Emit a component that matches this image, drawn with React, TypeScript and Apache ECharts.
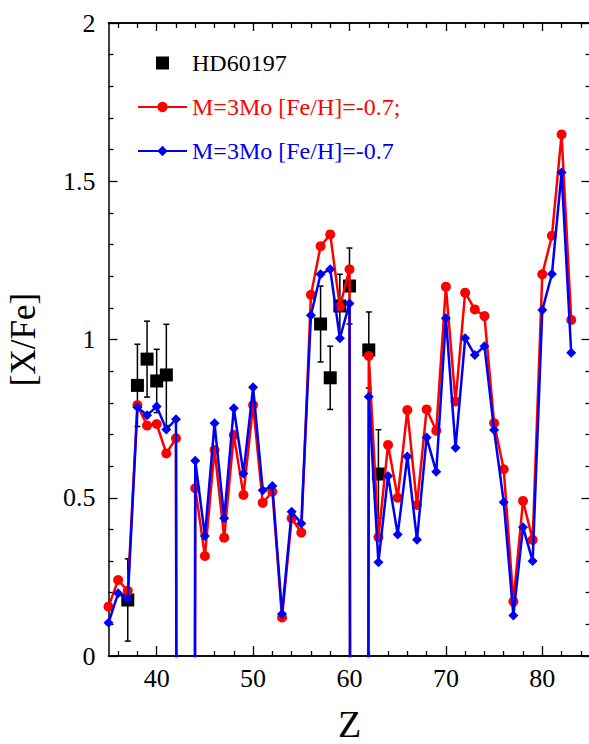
import { useEffect, useRef } from "react";
import * as echarts from "echarts";

// Atomic number of each element in the model curves
const elementZ = [
  35, 36, 37, 38, 39, 40, 41, 42, 43, 44, 45, 46, 47, 48, 49, 50, 51, 52, 53, 54, 55,
  56, 57, 58, 59, 60, 61, 62, 63, 64, 65, 66, 67, 68, 69, 70, 71, 72, 73, 74, 75, 76,
  77, 78, 79, 80, 81, 82, 83,
];

// [X/Fe] of the two models; Tc (43) and Pm (61) have no stable isotopes,
// so their values sit far below the axis.
const modelRed = [
  0.156, 0.24, 0.206, 0.793, 0.728, 0.733, 0.64, 0.688, -20, 0.53, 0.316, 0.651, 0.374,
  0.698, 0.509, 0.793, 0.484, 0.519, 0.122, 0.435, 0.39, 1.141, 1.295, 1.332, 1.104,
  1.222, -20, 0.948, 0.375, 0.667, 0.5, 0.777, 0.477, 0.779, 0.712, 1.167, 0.804, 1.148,
  1.095, 1.074, 0.736, 0.59, 0.172, 0.49, 0.367, 1.206, 1.328, 1.648, 1.062,
];
const modelBlue = [
  0.105, 0.198, 0.18, 0.786, 0.761, 0.788, 0.716, 0.748, -20, 0.617, 0.379, 0.735,
  0.435, 0.783, 0.577, 0.849, 0.524, 0.537, 0.133, 0.456, 0.419, 1.077, 1.206, 1.222,
  1.004, 1.114, -20, 0.819, 0.296, 0.569, 0.384, 0.63, 0.367, 0.69, 0.582, 1.067, 0.658,
  1.004, 0.951, 0.979, 0.714, 0.486, 0.128, 0.407, 0.3, 1.093, 1.207, 1.528, 0.958,
];

// Observed abundances of HD60197 with their uncertainties
const starZ = [37, 38, 39, 40, 41, 57, 58, 59, 60, 62, 63];
const starValue = [0.177, 0.855, 0.938, 0.869, 0.888, 1.049, 0.879, 1.106, 1.169, 0.967, 0.575];
const starError = [0.13, 0.13, 0.12, 0.1, 0.16, 0.12, 0.1, 0.1, 0.12, 0.12, 0.14];

const xMajorTicks = [40, 50, 60, 70, 80];
const xMinorTicks = [
  36, 38, 42, 44, 46, 48, 52, 54, 56, 58, 62, 64, 66, 68, 72, 74, 76, 78, 82, 84,
];

const NAME_STAR = "HD60197";
const NAME_RED = "M=3Mo [Fe/H]=-0.7;";
const NAME_BLUE = "M=3Mo [Fe/H]=-0.7";

const FONT = "Liberation Serif";
const RED = "#ff0000";
const BLUE = "#0000f0";

export default function App() {
  const ref = useRef<HTMLDivElement>(null);

  useEffect(() => {
    if (!ref.current) return;
    const chart = echarts.init(ref.current, null, { renderer: "svg" });

    const redData = elementZ.map((z, i) => [z, modelRed[i]]);
    const blueData = elementZ.map((z, i) => [z, modelBlue[i]]);
    const starData = starZ.map((z, i) => [z, starValue[i]]);
    const errData = starZ.map((z, i) => [z, starValue[i], starError[i]]);

    const axisLine = { show: true, lineStyle: { color: "#000", width: 1.5 } };
    const tickStyle = { color: "#000", width: 1.3 };
    const baseX = {
      type: "value" as const,
      min: 35,
      max: 85,
      splitLine: { show: false },
      axisLine,
    };
    const baseY = {
      type: "value" as const,
      min: 0,
      max: 2,
      interval: 0.5,
      splitLine: { show: false },
      axisLine,
    };

    chart.setOption({
      animation: false,
      backgroundColor: "#fff",
      grid: {
        left: 108.5,
        right: -1.5,
        top: 23,
        bottom: 88,
        containLabel: false,
        outerBoundsMode: "none",
      },
      legend: {
        orient: "vertical",
        left: 137,
        top: 51,
        padding: 0,
        itemWidth: 49,
        itemHeight: 13,
        itemGap: 20,
        selectedMode: false,
        textStyle: { fontFamily: FONT, fontSize: 24 },
        data: [
          {
            name: NAME_STAR,
            icon: "path://M0,0L10,0L10,10L0,10Z",
            textStyle: { color: "#000", fontFamily: FONT, fontSize: 24 },
          },
          { name: NAME_RED, textStyle: { color: RED, fontFamily: FONT, fontSize: 24 } },
          { name: NAME_BLUE, textStyle: { color: BLUE, fontFamily: FONT, fontSize: 24 } },
        ],
      },
      xAxis: [
        {
          ...baseX,
          position: "bottom",
          name: "Z",
          nameLocation: "middle",
          nameGap: 49,
          nameTextStyle: { fontFamily: FONT, fontSize: 38, color: "#000" },
          axisTick: {
            show: true,
            inside: true,
            length: 10,
            customValues: xMajorTicks,
            lineStyle: tickStyle,
          },
          axisLabel: {
            show: true,
            customValues: xMajorTicks,
            margin: 9,
            fontFamily: FONT,
            fontSize: 26,
            color: "#000",
          },
        },
        {
          ...baseX,
          position: "bottom",
          axisTick: {
            show: true,
            inside: true,
            length: 5,
            customValues: xMinorTicks,
            lineStyle: tickStyle,
          },
          axisLabel: { show: false },
        },
        {
          ...baseX,
          position: "top",
          axisTick: {
            show: true,
            inside: true,
            length: 8,
            customValues: xMajorTicks,
            lineStyle: tickStyle,
          },
          axisLabel: { show: false },
        },
        {
          ...baseX,
          position: "top",
          axisTick: {
            show: true,
            inside: true,
            length: 5,
            customValues: xMinorTicks,
            lineStyle: tickStyle,
          },
          axisLabel: { show: false },
        },
      ],
      yAxis: [
        {
          ...baseY,
          position: "left",
          name: "[X/Fe]",
          nameLocation: "middle",
          nameGap: 68,
          nameTextStyle: { fontFamily: FONT, fontSize: 35, color: "#000" },
          axisTick: { show: true, inside: true, length: 9, lineStyle: tickStyle },
          minorTick: { show: true, splitNumber: 5, length: 5, lineStyle: tickStyle },
          axisLabel: {
            show: true,
            margin: 13,
            fontFamily: FONT,
            fontSize: 26,
            color: "#000",
            formatter: (v: number) => String(v),
          },
        },
        {
          ...baseY,
          position: "right",
          axisTick: { show: true, inside: true, length: 9, lineStyle: tickStyle },
          minorTick: { show: true, splitNumber: 5, length: 5, lineStyle: tickStyle },
          axisLabel: { show: false },
        },
      ],
      series: [
        {
          type: "custom",
          xAxisIndex: 0,
          yAxisIndex: 0,
          silent: true,
          z: 2,
          data: errData,
          encode: { x: 0, y: 1 },
          renderItem: (_params: any, api: any) => {
            const x = api.value(0);
            const y = api.value(1);
            const e = api.value(2);
            const top = api.coord([x, y + e]);
            const bot = api.coord([x, y - e]);
            const cap = 3;
            const style = { stroke: "#000", lineWidth: 1.5 };
            return {
              type: "group",
              children: [
                { type: "line", shape: { x1: top[0], y1: top[1], x2: bot[0], y2: bot[1] }, style },
                { type: "line", shape: { x1: top[0] - cap, y1: top[1], x2: top[0] + cap, y2: top[1] }, style },
                { type: "line", shape: { x1: bot[0] - cap, y1: bot[1], x2: bot[0] + cap, y2: bot[1] }, style },
              ],
            };
          },
        },
        {
          name: NAME_STAR,
          type: "scatter",
          xAxisIndex: 0,
          yAxisIndex: 0,
          z: 3,
          symbol: "rect",
          symbolSize: 13,
          itemStyle: { color: "#000", opacity: 1 },
          data: starData,
        },
        {
          name: NAME_RED,
          type: "line",
          xAxisIndex: 0,
          yAxisIndex: 0,
          z: 4,
          symbol: "circle",
          symbolSize: 10,
          showAllSymbol: true,
          clip: true,
          lineStyle: { color: RED, width: 2.5 },
          itemStyle: { color: RED },
          data: redData,
        },
        {
          name: NAME_BLUE,
          type: "line",
          xAxisIndex: 0,
          yAxisIndex: 0,
          z: 5,
          symbol: "diamond",
          symbolSize: 10,
          showAllSymbol: true,
          clip: true,
          lineStyle: { color: BLUE, width: 2.5 },
          itemStyle: { color: BLUE },
          data: blueData,
        },
      ],
    });

    return () => chart.dispose();
  }, []);

  return (
    <div
      ref={ref}
      style={{ position: "fixed", left: 0, top: 0, width: 589, height: 744 }}
    />
  );
}
